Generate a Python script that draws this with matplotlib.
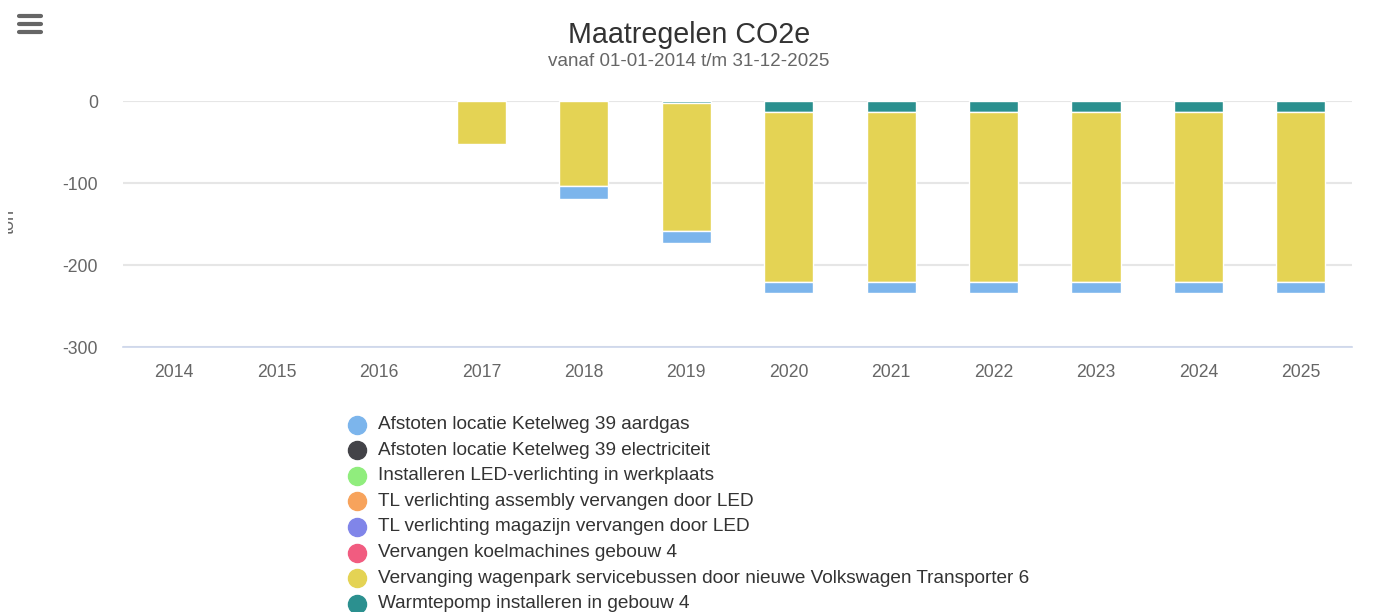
import matplotlib
matplotlib.use("Agg")
import matplotlib.pyplot as plt
from matplotlib.lines import Line2D
from matplotlib.transforms import Bbox
import numpy as np

plt.rcParams['font.family'] = ['Liberation Sans', 'DejaVu Sans']

title = "Maatregelen CO2e"
subtitle = "vanaf 01-01-2014 t/m 31-12-2025"
y_label = "ton"
years = ["2014", "2015", "2016", "2017", "2018", "2019", "2020", "2021", "2022", "2023", "2024", "2025"]

series_names = [
    "Afstoten locatie Ketelweg 39 aardgas",
    "Afstoten locatie Ketelweg 39 electriciteit",
    "Installeren LED-verlichting in werkplaats",
    "TL verlichting assembly vervangen door LED",
    "TL verlichting magazijn vervangen door LED",
    "Vervangen koelmachines gebouw 4",
    "Vervanging wagenpark servicebussen door nieuwe Volkswagen Transporter 6",
    "Warmtepomp installeren in gebouw 4",
]
colors = ["#7cb5ec", "#434348", "#90ed7d", "#f7a35c", "#8085e9", "#f15c80", "#e4d354", "#2b908f"]

aardgas = [0, 0, 0, 0, -15, -15, -13, -13, -13, -13, -13, -13]
electriciteit = [0, 0, 0, 0, 0, 0, 0, 0, 0, 0, 0, 0]
led_werkplaats = [0, 0, 0, 0, 0, 0, 0, 0, 0, 0, 0, 0]
tl_assembly = [0, 0, 0, 0, 0, 0, 0, 0, 0, 0, 0, 0]
tl_magazijn = [0, 0, 0, 0, 0, 0, 0, 0, 0, 0, 0, 0]
koelmachines = [0, 0, 0, 0, 0, 0, 0, 0, 0, 0, 0, 0]
wagenpark = [0, 0, 0, -52, -104, -156, -207, -207, -207, -207, -207, -207]
warmtepomp = [0, 0, 0, 0, 0, -2, -14, -14, -14, -14, -14, -14]

series = [aardgas, electriciteit, led_werkplaats, tl_assembly, tl_magazijn,
          koelmachines, wagenpark, warmtepomp]

W, H = 1375, 612
fig = plt.figure(figsize=(W / 100, H / 100), dpi=100)
ax = fig.add_axes([123 / W, 1 - 347 / H, (1352 - 123) / W, (347 - 101) / H])

x = np.arange(len(years))
# Highcharts stacking: last series nearest the axis
bottom = np.zeros(len(years))
for vals, col in reversed(list(zip(series, colors))):
    v = np.array(vals, dtype=float)
    mask = v != 0
    ax.bar(x[mask], v[mask], bottom=bottom[mask], width=0.48, color=col,
           edgecolor="white", linewidth=1, zorder=3)
    bottom = bottom + v

ax.set_xlim(-0.5, len(years) - 0.5)
ax.set_ylim(-300, 0)
ax.set_yticks([0, -100, -200, -300])
ax.set_yticklabels(["0", "-100", "-200", "-300"])
ax.set_xticks(x)
ax.set_xticklabels(years)
ax.grid(axis="y", color="#e6e6e6", linewidth=1.5, zorder=0)
ax.set_axisbelow(True)
for s in ["top", "right", "left"]:
    ax.spines[s].set_visible(False)
ax.spines["bottom"].set_color("#ccd6eb")
ax.spines["bottom"].set_linewidth(1.2)
ax.spines["bottom"].set_zorder(4)
ax.tick_params(axis="y", length=0, pad=18, labelsize=12.7, labelcolor="#666666")
ax.tick_params(axis="x", length=0, pad=12, labelsize=12.7, labelcolor="#666666")

fig.text(689 / W, 1 - 35 / H, title, ha="center", va="center", fontsize=20.6, color="#333333")
fig.text(689 / W, 1 - 62 / H, subtitle, ha="center", va="center", fontsize=13.6, color="#666666")
t = fig.text(18 / W, 1 - 222 / H, y_label, ha="right", va="center", rotation=90,
             fontsize=13, color="#666666")
t.set_clip_box(Bbox.from_extents(7.5, 0, W, H))
t.set_clip_on(True)

# hamburger menu icon
for yy in [16, 24, 32]:
    fig.add_artist(Line2D([19 / W, 41 / W], [1 - yy / H, 1 - yy / H], color="#666666",
                          linewidth=3.0, solid_capstyle="round"))

# legend
for i, (name, col) in enumerate(zip(series_names, colors)):
    yy = 1 - (424.5 + i * 25.6) / H
    fig.add_artist(Line2D([357 / W], [yy], marker="o", markersize=13, color=col,
                          linestyle="none"))
    fig.text(378 / W, yy, name, ha="left", va="center", fontsize=13.7, color="#333333")

fig.savefig("out.png", dpi=100, facecolor="white")
